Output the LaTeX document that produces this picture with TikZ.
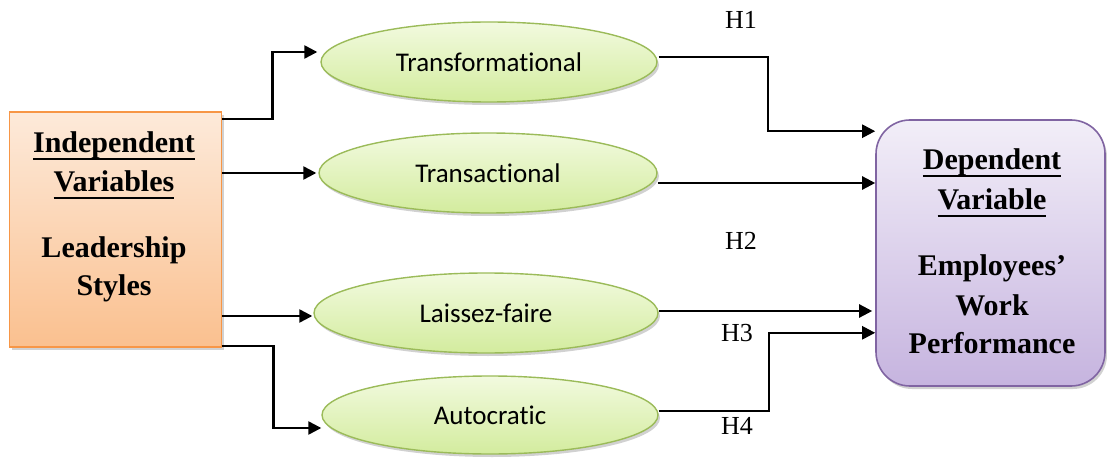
\documentclass[tikz,border=0pt]{standalone}
\usepackage{fontspec}
\setmainfont{Liberation Serif}
\newfontfamily\calfont[Ligatures=NoCommon]{Carlito}
\usetikzlibrary{shapes.geometric,shadows,calc,arrows.meta}
\definecolor{orgborder}{HTML}{F79646}
\definecolor{orgtop}{HTML}{FDEADA}
\definecolor{orgbot}{HTML}{FAC08F}
\definecolor{purborder}{HTML}{8064A2}
\definecolor{purtop}{HTML}{F2EEF8}
\definecolor{purbot}{HTML}{C6B4DF}
\definecolor{grnborder}{HTML}{9BBB59}
\definecolor{grntop}{HTML}{F2FADF}
\definecolor{grnbot}{HTML}{D3EC9E}
\newcommand\ulin[1]{\setbox0\hbox{#1}\rlap{\vrule width\wd0 height -4.6pt depth 6.8pt}\box0}
\tikzset{
  softshadow/.style={drop shadow={opacity=0.3, shadow xshift=2pt, shadow yshift=-3pt, fill=black!60}},
  leftbox/.style={draw=orgborder, line width=1.6pt, top color=orgtop, bottom color=orgbot, softshadow, minimum width=212pt, minimum height=235pt, inner sep=0pt},
  rightbox/.style={draw=purborder, line width=1.6pt, top color=purtop, bottom color=purbot, rounded corners=34pt, softshadow, minimum width=229pt, minimum height=266pt, inner sep=0pt},
  styleell/.style={ellipse, draw=grnborder, line width=1.4pt, top color=grntop, bottom color=grnbot, softshadow, minimum width=336pt, minimum height=80pt, inner sep=0pt, font=\calfont\fontsize{27}{32}\selectfont},
  boxtxt/.style={anchor=base, font=\bfseries\fontsize{30}{36}\selectfont, inner sep=0pt},
  hlab/.style={anchor=base, font=\fontsize{26}{30}\selectfont, inner sep=0pt},
  arr/.style={line width=2.4pt, -{Triangle[length=13pt,width=13pt]}},
}
\begin{document}
\begin{tikzpicture}[x=1pt,y=-1pt]
\useasboundingbox (0,0) rectangle (1107,462);
% boxes
\node[leftbox] (L) at (115.5,229.5) {};
\node[rightbox] (R) at (990.5,253) {};
% ellipses
\node[styleell] (e1) at (489,62) {Transformational};
\node[styleell, minimum width=338pt] (e2) at (488,173) {Transactional};
\node[styleell, minimum width=344pt] (e3) at (486,313) {Laissez-faire};
\node[styleell, minimum height=78pt] (e4) at (490,415) {Autocratic};
% left box text
\node[boxtxt] (l1) at (114,153) {\ulin{Independent}};
\node[boxtxt] (l2) at (114,192) {\ulin{Variables}};
\node[boxtxt] (l3) at (114,257) {Leadership};
\node[boxtxt] (l4) at (114,295) {Styles};
% right box text
\node[boxtxt] (r1) at (992,170) {\ulin{Dependent}};
\node[boxtxt] (r2) at (992,210) {\ulin{Variable}};
\node[boxtxt] (r3) at (992,275) {Employees’};
\node[boxtxt] (r4) at (992,315) {Work};
\node[boxtxt] (r5) at (992,353) {Performance};
% hypothesis labels
\node[hlab] (h1) at (741,29) {H1};
\node[hlab] (h2) at (741,249) {H2};
\node[hlab] (h3) at (737,341) {H3};
\node[hlab] (h4) at (737,434) {H4};
% left connectors
\coordinate (a1) at ($(L.north east)+(0,8)$);
\coordinate (b1) at ($(e1.west)+(-3,-10)$);
\draw[arr] (a1) -- ++(50,0) |- (b1);
\draw[arr] (L.east |- e2.west) -- ($(e2.west)+(-2,0)$);
\coordinate (a3) at ($(e3.west)+(0,3)$);
\draw[arr] (L.east |- a3) -- ($(a3)+(-1,0)$);
\coordinate (a4) at ($(L.south east)+(0,-2)$);
\coordinate (b4) at ($(e4.west)+(0,13)$);
\draw[arr] (a4) -- ++(51,0) |- (b4);
% right connectors
\coordinate (c1) at ($(e1.east)+(1,-5)$);
\coordinate (d1) at ($(R.north west)+(0,12)$);
\draw[arr] (c1) -- ++(109,0) |- (d1);
\coordinate (c2) at ($(e2.east)+(0,10)$);
\draw[arr] (c2) -- (c2 -| R.west);
\coordinate (c3) at ($(e3.east)+(0,-2)$);
\draw[arr] (c3) -- ($(c3 -| R.west)+(-3,0)$);
\coordinate (c4) at ($(e4.east)+(0,-4)$);
\coordinate (d4) at ($(R.south west)+(0,-54)$);
\draw[arr] (c4) -- ++(110,0) |- (d4);
\end{tikzpicture}
\end{document}
